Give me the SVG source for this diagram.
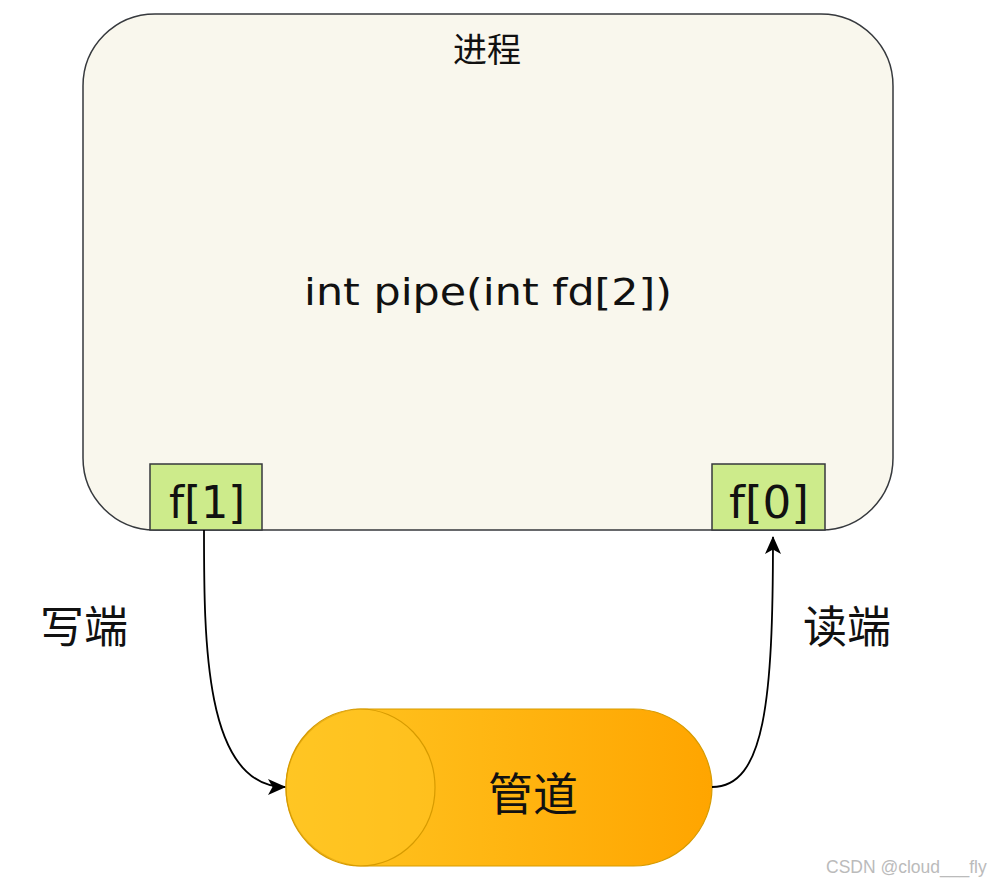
<svg xmlns="http://www.w3.org/2000/svg" width="993" height="885" viewBox="0 0 993 885">
<defs>
<style>
.t{font-family:"Liberation Sans","Noto Sans CJK SC",sans-serif;fill:#111;text-anchor:middle}
.l{font-family:"DejaVu Sans","Noto Sans CJK SC",sans-serif;fill:#111;text-anchor:middle}
.fd{fill:#cdeb8b;stroke:#36393d;stroke-width:1.5}
.conn{fill:none;stroke:#000;stroke-width:1.8}
</style>
<linearGradient id="pg" x1="0" y1="0" x2="1" y2="0">
<stop offset="0" stop-color="#ffc623"/>
<stop offset="1" stop-color="#ffa500"/>
</linearGradient>
<marker id="ah" viewBox="0 0 18 16" refX="17" refY="8" markerWidth="18" markerHeight="16" markerUnits="userSpaceOnUse" orient="auto">
<path d="M0,0 L18,8 L0,16 L4.5,8 Z" fill="#000"/>
</marker>
</defs>
<rect width="993" height="885" fill="#fff"/>
<g id="process">
<rect x="83" y="14" width="810" height="516" rx="72" ry="72" fill="#f9f7ed" stroke="#36393d" stroke-width="1.5"/>
<text class="t" x="487" y="62" font-size="34">进程</text>
<text class="l" x="488" y="305" font-size="38" textLength="368" lengthAdjust="spacingAndGlyphs">int pipe(int fd[2])</text>
</g>
<g id="f1">
<rect class="fd" x="150" y="464" width="112" height="66"/>
<text class="l" x="207" y="518" font-size="44" textLength="76" lengthAdjust="spacingAndGlyphs">f[1]</text>
</g>
<g id="f0">
<rect class="fd" x="712" y="464" width="113" height="66"/>
<text class="l" x="769" y="518" font-size="44" textLength="80" lengthAdjust="spacingAndGlyphs">f[0]</text>
</g>
<g id="pipe">
<rect x="286" y="709" width="426" height="157" rx="78.5" ry="78.5" fill="url(#pg)" stroke="#d79b00" stroke-width="1.2"/>
<ellipse cx="360.5" cy="787.5" rx="74.5" ry="78.5" fill="#ffc623" fill-opacity="0.5" stroke="#d79b00" stroke-width="1.2"/>
<text class="t" x="533" y="811" font-size="45">管道</text>
</g>
<g id="connectors">
<path class="conn" d="M204,530 C204,640 204,787 285,787" marker-end="url(#ah)"/>
<path class="conn" d="M712,787 C765,787 773,700 773,537" marker-end="url(#ah)"/>
</g>
<g id="labels">
<text class="t" x="84" y="643" font-size="44">写端</text>
<text class="t" x="847" y="643" font-size="44">读端</text>
</g>
<text x="826" y="873" font-family="Liberation Sans,sans-serif" font-size="17.5" fill="#bbb">CSDN @cloud___fly</text>
</svg>
